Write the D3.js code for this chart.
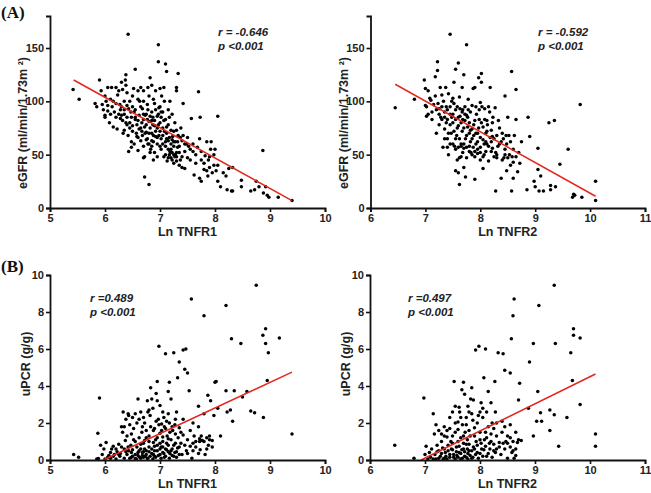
<!DOCTYPE html>
<html><head><meta charset="utf-8">
<script src="https://cdn.jsdelivr.net/npm/d3@7"></script>
<style>
body{margin:0;background:#fff;}
svg{display:block;}
text{font-family:"Liberation Sans",Arial,sans-serif;}
</style></head>
<body><svg id="c" width="651" height="493"></svg>
<script>
// ---- DATA ----
const a1Points = [[5.42,111],[5.53,102],[5.82,98],[5.85,95],[5.9,120],[5.93,110],[5.97,92],[6.0,87],[6.0,85],[6.02,100],[6.05,91],[6.05,113],[6.08,80],[6.1,102],[6.12,113],[6.13,95],[6.15,76],[6.17,90],[6.2,98],[6.2,113],[6.22,74],[6.23,106],[6.25,88],[6.27,97],[6.28,84],[6.3,118],[6.3,95],[6.32,111],[6.32,82],[6.35,100],[6.35,88],[6.35,73],[6.37,120],[6.38,125],[6.38,115],[6.4,108],[6.4,96],[6.4,85],[6.42,163],[6.42,68],[6.43,53],[6.45,80],[6.45,100],[6.47,90],[6.48,57],[6.48,62],[6.5,77],[6.5,105],[6.52,112],[6.53,60],[6.55,130],[6.55,85],[6.55,92],[6.57,70],[6.58,78],[6.6,110],[6.6,66],[6.62,87],[6.63,100],[6.65,113],[6.65,75],[6.67,72],[6.67,80],[6.68,93],[6.7,110],[6.7,58],[6.7,83],[6.72,48],[6.72,29],[6.73,70],[6.75,78],[6.75,88],[6.77,97],[6.77,65],[6.78,60],[6.8,81],[6.8,105],[6.8,22],[6.82,122],[6.82,75],[6.83,55],[6.85,70],[6.85,115],[6.85,90],[6.87,85],[6.88,62],[6.88,45],[6.9,77],[6.9,98],[6.9,52],[6.92,67],[6.92,110],[6.95,86],[6.95,60],[6.97,153],[6.97,137],[6.97,78],[6.98,94],[7.0,72],[7.0,95],[7.0,58],[7.02,85],[7.02,65],[7.03,105],[7.05,90],[7.05,75],[7.07,113],[7.07,48],[7.08,100],[7.1,83],[7.1,135],[7.1,62],[7.12,128],[7.12,70],[7.13,44],[7.15,92],[7.15,55],[7.15,78],[7.17,50],[7.17,66],[7.18,100],[7.2,60],[7.2,73],[7.2,47],[7.22,88],[7.22,52],[7.23,67],[7.25,58],[7.25,42],[7.27,80],[7.28,62],[7.28,50],[7.3,113],[7.3,110],[7.3,73],[7.32,57],[7.33,126],[7.33,68],[7.35,52],[7.37,45],[7.38,75],[7.4,38],[7.4,63],[7.42,98],[7.42,68],[7.45,37],[7.45,53],[7.48,60],[7.5,47],[7.52,58],[7.55,55],[7.57,84],[7.6,53],[7.62,31],[7.65,42],[7.7,109],[7.72,65],[7.72,28],[7.73,85],[7.75,25],[7.75,53],[7.8,36],[7.82,49],[7.85,62],[7.87,30],[7.88,45],[7.9,38],[7.92,55],[7.93,62],[7.95,33],[7.98,40],[8.0,55],[8.02,35],[8.05,86],[8.05,25],[8.1,20],[8.2,30],[8.22,17],[8.25,37],[8.3,16],[8.32,16],[8.32,38],[8.48,26],[8.48,20],[8.65,16],[8.72,17],[8.75,25],[8.8,20],[8.87,54],[8.88,14],[8.92,20],[8.95,12],[8.98,10],[9.15,10],[9.4,7],
[6.6,82],[6.62,74],[6.65,95],[6.68,68],[6.7,88],[6.72,76],[6.75,64],[6.78,92],[6.8,70],[6.82,86],[6.85,63],[6.87,78],[6.9,82],[6.92,72],[6.95,66],[6.97,88],[7.0,80],[7.02,55],[7.05,68],[7.07,82],[7.1,58],[7.12,76],[7.15,63],[7.17,85],[7.2,55],[7.22,64],[7.25,72],[7.27,48],[7.3,52],[7.32,62],[7.35,58],[7.37,66],[7.1,50],[7.15,47],[7.2,52],[7.25,50],[7.3,48],[7.22,45],[7.18,53],[6.75,71],[6.85,82],[6.95,75],[7.05,60],[6.5,72],[6.55,83],[6.45,75],[6.4,78],[6.35,92],[6.3,87],[6.25,110],[6.5,95],[6.6,102],[6.7,100],[6.78,113],[6.88,102],[7.0,112],[6.95,48],[6.82,52],[6.6,54],[6.7,47],[7.45,60],[7.5,66],[7.55,45],[7.6,60],[7.65,50],[7.68,57],[7.4,48],[7.35,40],[7.3,44],[7.25,62],[7.12,65],[7.08,72],[7.02,90],[6.98,68],[6.92,92],[6.88,68],[6.85,58],[6.8,60],[6.77,83],[6.73,87],[6.65,63],[6.58,67],[6.53,90],[6.48,85],[6.43,93],[6.38,80],[6.33,70],[6.28,92],[6.2,85],[6.15,100],[6.1,88],[6.05,96],[6.0,105],[5.95,97],[7.8,42],[7.85,35],[7.9,48],[7.98,50],[8.05,40],[8.15,33],[7.75,45]];

const a2Points = [[6.45,94],[6.8,102],[6.98,120],[7.0,112],[7.0,96],[7.02,95],[7.02,86],[7.05,110],[7.1,101],[7.12,83],[7.18,123],[7.18,105],[7.2,70],[7.2,92],[7.22,137],[7.22,129],[7.23,98],[7.25,88],[7.25,78],[7.27,113],[7.3,106],[7.3,83],[7.32,57],[7.33,100],[7.35,74],[7.35,90],[7.37,113],[7.38,95],[7.4,65],[7.4,83],[7.42,107],[7.42,50],[7.45,163],[7.45,88],[7.47,70],[7.48,100],[7.5,60],[7.5,80],[7.52,118],[7.53,58],[7.55,130],[7.55,92],[7.55,35],[7.57,68],[7.58,45],[7.6,136],[7.6,77],[7.6,33],[7.62,104],[7.62,22],[7.63,86],[7.65,60],[7.65,48],[7.67,113],[7.67,72],[7.68,92],[7.7,125],[7.7,56],[7.7,38],[7.72,82],[7.73,65],[7.73,29],[7.75,153],[7.75,87],[7.75,47],[7.77,76],[7.78,102],[7.8,58],[7.8,70],[7.82,90],[7.83,52],[7.85,96],[7.85,65],[7.87,112],[7.88,78],[7.9,113],[7.9,48],[7.9,27],[7.92,60],[7.93,88],[7.95,70],[7.95,55],[7.97,122],[7.98,83],[8.0,99],[8.0,66],[8.0,45],[8.02,126],[8.02,118],[8.05,76],[8.05,37],[8.07,60],[8.08,93],[8.1,70],[8.1,53],[8.12,82],[8.15,44],[8.15,95],[8.18,113],[8.2,62],[8.2,53],[8.22,80],[8.25,48],[8.27,94],[8.28,16],[8.3,68],[8.32,58],[8.35,75],[8.38,28],[8.4,45],[8.42,65],[8.45,105],[8.45,55],[8.47,68],[8.48,35],[8.5,85],[8.5,47],[8.55,62],[8.57,128],[8.57,16],[8.58,48],[8.6,43],[8.6,28],[8.62,68],[8.65,111],[8.65,83],[8.68,34],[8.7,52],[8.72,42],[8.75,62],[8.85,17],[8.87,85],[8.9,67],[8.98,25],[9.0,20],[9.05,36],[9.05,56],[9.07,16],[9.1,30],[9.15,16],[9.25,80],[9.28,17],[9.28,21],[9.35,82],[9.37,20],[9.45,41],[9.6,55],[9.68,10],[9.7,13],[9.72,12],[9.82,97],[9.85,10],[10.1,25],[10.1,7],
[7.3,95],[7.35,85],[7.4,92],[7.45,78],[7.5,88],[7.52,72],[7.55,83],[7.58,95],[7.6,85],[7.62,65],[7.65,80],[7.67,90],[7.7,75],[7.72,95],[7.75,68],[7.77,85],[7.8,80],[7.82,62],[7.85,74],[7.87,57],[7.9,82],[7.92,70],[7.95,62],[7.97,75],[8.0,57],[8.02,80],[8.05,64],[8.07,50],[8.1,62],[8.12,72],[8.15,58],[8.18,66],[8.2,73],[8.22,56],[8.25,65],[8.28,52],[8.3,50],[8.35,60],[8.4,70],[8.45,50],[7.5,103],[7.45,60],[7.4,57],[7.55,55],[7.6,57],[7.65,58],[7.7,60],[7.75,57],[7.8,53],[7.85,50],[7.9,53],[7.95,51],[8.0,52],[8.05,48],[7.25,93],[7.28,85],[7.38,80],[7.42,70],[7.48,85],[7.52,98],[7.58,75],[7.63,93],[7.68,83],[7.72,88],[7.78,92],[7.82,73],[7.88,68],[7.92,95],[7.98,92],[8.03,95],[8.08,83],[8.13,78],[8.17,90],[8.23,85],[8.33,82],[8.38,62],[8.43,47],[8.53,50],[8.6,55],[8.65,48],[7.15,97],[7.12,90],[7.08,103],[7.05,88],[7.35,65],[7.45,95],[7.55,65],[7.62,47],[7.68,52],[8.12,60],[8.22,67],[8.3,47],[8.48,60],[8.52,68],[8.55,40]];

const b1Points = [[5.43,0.3],[5.52,0.15],[5.85,0.05],[5.87,1.45],[5.88,0.08],[5.9,3.35],[5.92,0.8],[5.95,0.3],[5.98,0.6],[6.0,0.05],[6.02,0.95],[6.05,0.15],[6.07,0.25],[6.1,0.1],[6.12,0.6],[6.15,0.75],[6.17,0.3],[6.2,0.05],[6.2,0.6],[6.22,0.45],[6.25,0.85],[6.27,0.2],[6.28,0.35],[6.3,1.8],[6.32,1.5],[6.33,2.6],[6.35,0.1],[6.35,0.6],[6.37,1.05],[6.38,2.2],[6.4,0.3],[6.4,1.3],[6.42,2.5],[6.43,0.5],[6.45,1.9],[6.47,0.8],[6.48,0.15],[6.5,0.55],[6.5,2.3],[6.52,1.7],[6.55,0.3],[6.55,1.0],[6.57,0.05],[6.58,2.0],[6.6,3.3],[6.6,0.4],[6.62,1.2],[6.63,0.15],[6.65,0.6],[6.67,1.5],[6.68,0.25],[6.7,2.3],[6.7,0.9],[6.72,1.05],[6.73,0.2],[6.75,1.6],[6.75,0.5],[6.77,3.2],[6.78,0.1],[6.8,0.7],[6.8,1.3],[6.82,2.4],[6.83,3.9],[6.85,0.35],[6.85,3.3],[6.87,2.8],[6.88,0.95],[6.9,0.2],[6.9,1.7],[6.92,1.1],[6.93,3.6],[6.95,0.5],[6.95,4.25],[6.97,2.2],[6.98,6.15],[7.0,0.3],[7.0,1.45],[7.0,2.95],[7.02,0.7],[7.03,1.95],[7.05,0.4],[7.05,1.0],[7.07,2.3],[7.08,0.15],[7.1,1.7],[7.1,5.75],[7.12,0.55],[7.13,1.3],[7.15,3.7],[7.15,0.8],[7.17,4.2],[7.17,2.0],[7.18,0.35],[7.2,1.1],[7.2,3.3],[7.22,0.6],[7.23,1.6],[7.25,5.8],[7.25,0.2],[7.27,1.9],[7.28,0.9],[7.3,2.6],[7.3,0.45],[7.32,4.45],[7.33,1.2],[7.35,5.3],[7.35,0.7],[7.38,1.5],[7.4,0.3],[7.42,5.95],[7.42,2.2],[7.45,4.9],[7.47,6.0],[7.48,0.5],[7.5,4.7],[7.5,1.1],[7.53,3.75],[7.55,0.75],[7.57,8.7],[7.58,0.1],[7.6,2.0],[7.62,1.3],[7.65,0.7],[7.7,1.8],[7.7,2.9],[7.72,1.0],[7.73,0.55],[7.77,1.05],[7.8,7.8],[7.8,2.5],[7.82,0.3],[7.85,1.2],[7.87,3.5],[7.88,0.8],[7.9,1.1],[7.92,3.2],[7.95,0.7],[7.98,2.4],[8.0,4.2],[8.02,4.25],[8.05,2.8],[8.1,1.3],[8.2,3.75],[8.2,8.35],[8.22,2.6],[8.28,2.7],[8.3,6.55],[8.32,2.1],[8.35,3.75],[8.47,6.3],[8.5,3.4],[8.58,3.7],[8.65,2.65],[8.72,2.55],[8.75,9.45],[8.87,6.75],[8.88,2.3],[8.92,7.1],[8.92,6.3],[8.95,4.3],[8.97,5.8],[9.17,6.6],[9.4,1.4],
[6.45,0.1],[6.5,0.2],[6.55,0.08],[6.6,0.25],[6.62,0.5],[6.65,0.1],[6.68,0.4],[6.7,0.15],[6.72,0.6],[6.75,0.3],[6.77,0.08],[6.8,0.45],[6.82,0.2],[6.85,0.6],[6.87,0.05],[6.88,0.3],[6.9,0.5],[6.92,0.15],[6.95,0.8],[6.97,0.25],[7.0,0.6],[7.02,0.1],[7.05,0.7],[7.07,0.35],[7.1,0.2],[7.12,0.9],[7.15,0.45],[7.17,0.1],[7.2,0.5],[7.22,0.25],[7.25,0.8],[7.27,0.4],[7.3,0.15],[7.32,0.65],[7.35,0.3],[7.1,0.6],[7.15,1.15],[7.05,1.25],[7.0,0.9],[6.95,1.2],[6.9,0.75],[6.8,1.0],[6.75,1.2],[6.7,0.45],[6.65,0.85],[6.58,0.7],[6.52,1.1],[6.48,0.4],[6.42,0.7],[6.38,0.45],[6.3,0.7],[6.25,0.3],[6.15,0.2],[6.1,0.4],[7.6,0.5],[7.65,1.0],[7.7,0.35],[7.75,1.3],[7.8,1.0],[7.85,0.6],[7.9,1.3],[7.95,1.05],[7.72,1.15],[7.6,0.9],[7.55,1.6],[7.5,0.35],[7.45,0.8],[7.42,1.35],[7.38,0.9],[7.28,1.4],[7.22,1.8],[7.18,1.5],[7.12,2.1],[7.08,1.8],[7.03,1.6],[6.98,1.9],[6.93,2.1],[6.88,1.6],[6.83,1.8],[6.78,2.6],[6.72,2.0],[6.68,1.8],[6.62,2.2],[6.55,2.5],[6.48,1.4],[6.43,2.4],[6.35,1.8],[6.65,2.6],[6.8,2.7],[6.95,3.2],[7.05,2.6],[7.15,2.5],[7.28,2.2],[7.35,1.75]];

const b2Points = [[6.45,0.8],[6.8,0.1],[6.98,3.35],[7.0,0.3],[7.02,0.75],[7.05,0.05],[7.08,0.4],[7.1,0.15],[7.12,0.6],[7.15,2.5],[7.17,1.4],[7.18,0.3],[7.2,1.9],[7.2,0.05],[7.22,0.8],[7.25,1.6],[7.25,0.5],[7.28,0.2],[7.3,1.4],[7.3,1.0],[7.32,0.65],[7.35,0.1],[7.35,1.8],[7.37,0.4],[7.4,1.25],[7.4,0.05],[7.42,0.8],[7.45,2.3],[7.45,0.3],[7.47,1.0],[7.5,2.6],[7.5,0.55],[7.52,0.15],[7.53,4.25],[7.55,1.5],[7.55,2.9],[7.57,0.7],[7.58,0.25],[7.6,2.05],[7.6,1.0],[7.62,0.4],[7.63,2.6],[7.65,1.2],[7.65,0.05],[7.67,3.8],[7.68,1.9],[7.7,4.2],[7.7,0.6],[7.72,3.55],[7.72,0.2],[7.73,1.5],[7.75,2.3],[7.75,0.85],[7.77,1.1],[7.78,0.35],[7.8,2.6],[7.8,0.5],[7.82,1.3],[7.83,3.3],[7.85,3.9],[7.85,0.1],[7.87,2.15],[7.88,3.25],[7.88,0.7],[7.9,1.75],[7.92,5.95],[7.93,1.0],[7.95,0.4],[7.97,2.4],[7.98,6.15],[8.0,1.5],[8.02,3.1],[8.03,0.6],[8.05,2.8],[8.07,4.45],[8.08,1.1],[8.1,6.0],[8.12,0.2],[8.15,1.8],[8.15,3.7],[8.17,0.9],[8.2,3.1],[8.22,2.0],[8.25,0.5],[8.27,4.25],[8.28,2.6],[8.3,1.3],[8.33,5.8],[8.35,0.7],[8.4,2.1],[8.42,5.75],[8.45,4.85],[8.47,1.0],[8.5,0.9],[8.55,4.7],[8.55,1.9],[8.57,6.55],[8.58,0.4],[8.6,7.8],[8.62,8.7],[8.62,0.1],[8.65,1.5],[8.68,0.95],[8.7,3.25],[8.72,4.15],[8.75,1.05],[8.88,2.8],[8.9,5.3],[8.97,6.3],[8.97,1.3],[9.03,2.1],[9.05,3.7],[9.07,8.35],[9.1,2.55],[9.12,2.1],[9.27,1.6],[9.27,2.7],[9.35,9.45],[9.35,2.45],[9.37,6.3],[9.43,0.75],[9.58,2.3],[9.65,5.8],[9.68,4.3],[9.7,7.1],[9.7,6.75],[9.82,3.0],[9.82,6.6],[10.1,1.4],[10.1,0.75],
[7.42,0.5],[7.45,0.15],[7.48,0.6],[7.5,0.9],[7.52,0.3],[7.55,0.05],[7.57,0.45],[7.6,0.15],[7.62,0.75],[7.65,0.35],[7.67,0.55],[7.68,0.1],[7.7,0.9],[7.72,0.45],[7.75,0.15],[7.77,0.6],[7.78,0.05],[7.8,0.85],[7.82,0.25],[7.85,0.5],[7.87,0.15],[7.9,0.6],[7.92,0.3],[7.95,0.8],[7.97,0.1],[8.0,0.35],[8.02,0.9],[8.05,0.2],[8.07,0.55],[8.1,0.75],[8.12,1.2],[8.15,0.35],[8.18,0.6],[8.2,1.0],[8.22,0.15],[8.25,0.85],[8.28,0.4],[8.3,0.6],[8.35,0.95],[8.38,0.3],[8.42,0.9],[8.45,0.6],[8.5,0.1],[8.55,0.7],[8.6,0.5],[8.65,0.25],[7.3,0.35],[7.33,0.05],[7.35,0.6],[7.38,0.2],[7.25,0.1],[7.22,0.45],[7.15,0.05],[7.4,1.6],[7.5,1.3],[7.6,1.65],[7.7,1.3],[7.8,1.6],[7.9,1.3],[8.0,1.1],[8.1,1.5],[8.2,1.4],[8.25,1.7],[8.3,2.0],[8.45,1.8],[8.5,1.3],[8.6,1.0],[8.7,1.1],[7.55,2.0],[7.65,2.3],[7.75,1.9],[7.85,2.5],[7.95,2.0],[8.05,2.3],[8.12,2.6],[7.45,1.7],[7.35,1.3],[7.62,2.85],[7.78,2.9],[8.0,2.6],[8.4,1.5],[8.55,1.2],[8.65,0.6]];

const a1Fit = [[5.43,120],[9.4,7]];
const a2Fit = [[6.45,116],[10.1,11]];
const b1Fit = [[5.97,0],[9.4,4.75]];
const b2Fit = [[6.93,0],[10.1,4.65]];

const tnfr1Ticks = [5,6,7,8,9,10];
const tnfr2Ticks = [6,7,8,9,10,11];
const egfrTicks = [0,50,100,150];
const upcrTicks = [0,2,4,6,8,10];

const labels = {
  egfr: "eGFR (ml/min/1.73m \u00B2)", upcr: "uPCR (g/g)",
  tnfr1: "Ln TNFR1", tnfr2: "Ln TNFR2"
};
const stats = [["r = -0.646","p <0.001"],["r = -0.592","p <0.001"],["r =0.489","p <0.001"],["r =0.497","p <0.001"]];

// ---- DRAW ----
const svg = d3.select("#c");

function panel(o){
  const x = d3.scaleLinear().domain(o.xd).range([o.x0, o.x1]);
  const y = d3.scaleLinear().domain(o.yd).range([o.y0, o.y1]);
  const g = svg.append("g");
  g.append("g").selectAll("circle").data(o.pts).join("circle")
    .attr("cx", d=>x(d[0])).attr("cy", d=>y(d[1])).attr("r", 1.75).attr("fill","#000");
  g.append("line").attr("x1",x(o.fit[0][0])).attr("y1",y(o.fit[0][1]))
    .attr("x2",x(o.fit[1][0])).attr("y2",y(o.fit[1][1]))
    .attr("stroke","#e3281e").attr("stroke-width",1.5);
  const xa = g.append("g").attr("transform",`translate(0,${o.y0})`)
    .call(d3.axisBottom(x).tickValues(o.xt).tickSize(4).tickPadding(2).tickFormat(d3.format("d")));
  const ya = g.append("g").attr("transform",`translate(${o.x0},0)`)
    .call(d3.axisLeft(y).tickValues(o.yt).tickSize(4).tickPadding(2).tickFormat(d3.format("d")));
  [xa,ya].forEach(a=>{
    a.select(".domain").attr("stroke","#111").attr("stroke-width",1.8);
    a.selectAll(".tick line").attr("stroke","#111").attr("stroke-width",1.6);
    a.selectAll(".tick text").attr("fill","#222").style("font-size","11px").style("font-weight","bold")
      .style("font-family","'Liberation Sans',Arial,sans-serif");
  });
  g.append("text").attr("x",(o.x0+o.x1)/2).attr("y",o.y0+28).attr("text-anchor","middle")
    .style("font-size","12.5px").style("font-weight","bold").attr("fill","#222").text(o.xl);
  g.append("text").attr("transform",`translate(${o.x0-o.ylo},${o.ylc}) rotate(-90)`)
    .attr("text-anchor","middle").style("font-size","12.5px").style("font-weight","bold").attr("fill","#222").text(o.yl);
  o.st.forEach((s,i)=>{
    g.append("text").attr("x",o.sx).attr("y",o.sy+i*14)
      .style("font-size","11.5px").style("font-weight","bold").style("font-style","italic")
      .attr("fill","#222").text(s);
  });
}

panel({pts:a1Points, fit:a1Fit, xd:[5,10], yd:[0,180], x0:50, x1:325, y0:208, y1:16,
  xt:tnfr1Ticks, yt:egfrTicks, xl:labels.tnfr1, yl:labels.egfr, ylc:123, ylo:23, st:stats[0], sx:218, sy:36});
panel({pts:a2Points, fit:a2Fit, xd:[6,11], yd:[0,180], x0:370.5, x1:645, y0:208, y1:16,
  xt:tnfr2Ticks, yt:egfrTicks, xl:labels.tnfr2, yl:labels.egfr, ylc:123, ylo:23, st:stats[1], sx:538, sy:36});
panel({pts:b1Points, fit:b1Fit, xd:[5,10], yd:[0,10], x0:50, x1:325, y0:460, y1:275,
  xt:tnfr1Ticks, yt:upcrTicks, xl:labels.tnfr1, yl:labels.upcr, ylc:364, ylo:20, st:stats[2], sx:90, sy:302});
panel({pts:b2Points, fit:b2Fit, xd:[6,11], yd:[0,10], x0:370, x1:645, y0:460, y1:275,
  xt:tnfr2Ticks, yt:upcrTicks, xl:labels.tnfr2, yl:labels.upcr, ylc:364, ylo:20, st:stats[3], sx:408, sy:302});

svg.append("text").attr("x",1).attr("y",18).style("font-family","'Liberation Serif','Times New Roman',serif")
  .style("font-size","17px").style("font-weight","bold").attr("fill","#111").text("(A)");
svg.append("text").attr("x",1).attr("y",272).style("font-family","'Liberation Serif','Times New Roman',serif")
  .style("font-size","17px").style("font-weight","bold").attr("fill","#111").text("(B)");
</script></body></html>
